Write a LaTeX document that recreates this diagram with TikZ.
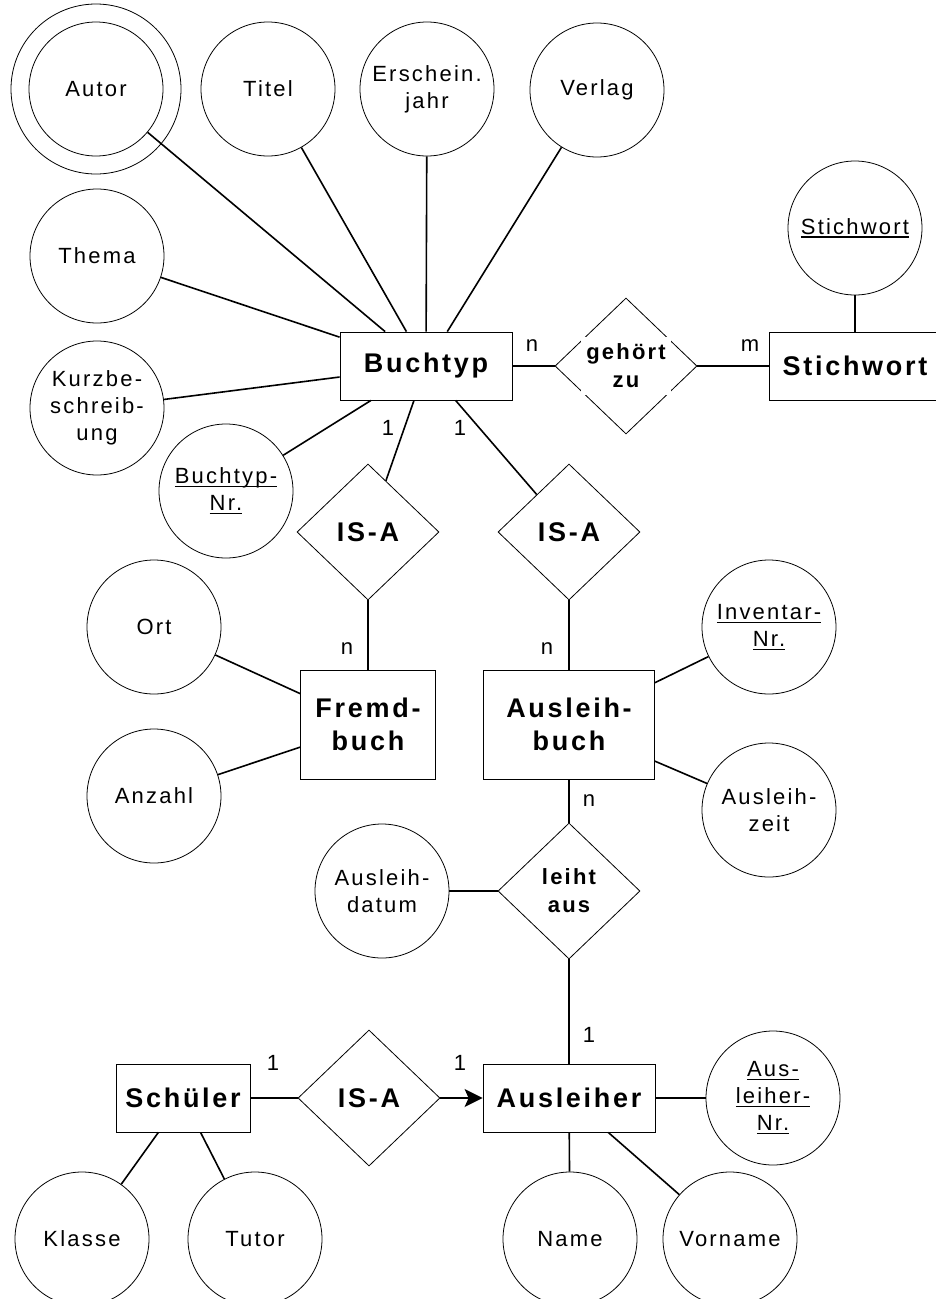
\documentclass[tikz,border=0pt]{standalone}
\usepackage{fontspec}
\setmainfont{Liberation Sans}[LetterSpace=10]
\usetikzlibrary{shapes.geometric,arrows.meta}
\newcommand\attrfont{\fontsize{22}{27}\selectfont}
\newcommand\entfont{\fontsize{27}{33}\selectfont\bfseries}
\newcommand\relfont{\fontsize{22}{28}\selectfont\bfseries}
\newsavebox\ulbox
\newcommand\myul[1]{\sbox\ulbox{#1}\rlap{\rule[-3.5pt]{\wd\ulbox}{1.3pt}}\usebox\ulbox}
\tikzset{
  attr/.style={circle, draw, line width=0.8pt, minimum size=134pt, inner sep=0pt, align=center, font=\attrfont},
  ring/.style={circle, draw, line width=0.8pt, minimum size=170pt, inner sep=0pt},
  ent/.style={draw, line width=0.8pt, inner sep=0pt, align=center, font=\entfont},
  rel/.style={diamond, draw, line width=0.8pt, minimum width=142pt, minimum height=136pt, inner sep=0pt, align=center},
  conn/.style={line width=1.6pt},
  card/.style={inner sep=0pt, font=\attrfont},
  arr/.style={-{Stealth[length=18pt,width=18pt,inset=4pt]}}
}
\begin{document}
\begin{tikzpicture}[x=1pt,y=-1pt]
\clip (0,0) rectangle (936,1299);
% attributes of Buchtyp
\node[attr] (autor) at (96,89) {Autor};
\node[ring] (autorring) at (96,89) {};
\node[attr] (titel) at (268,89) {Titel};
\node[attr] (erschein) at (427,89) {Erschein.\\jahr};
\node[attr] (verlag) at (597,90) {Verlag};
\node[attr] (thema) at (97,256) {Thema};
\node[attr] (kurz) at (97,408) {Kurzbe-\\schreib-\\ung};
\node[attr] (btnr) at (226,491) {\myul{Buchtyp-}\\\myul{Nr.}};
% entities and relationships
\node[ent, minimum width=172pt, minimum height=68pt] (buchtyp) at (426,366) {Buchtyp};
\node[rel] (gz) at (626,366) {};
\node[fill=white, minimum width=90pt, minimum height=58pt, inner sep=0pt, align=center, font=\relfont] (gztext) at (626,366) {gehört\\zu};
\node[ent, minimum width=172pt, minimum height=68pt] (stichwort) at (855,366) {Stichwort};
\node[attr] (stichattr) at (855,228) {\myul{Stichwort}};
\node[rel, font=\entfont] (isa1) at (368,532) {IS-A};
\node[rel, font=\entfont] (isa2) at (569,532) {IS-A};
\node[ent, minimum width=135pt, minimum height=109pt] (fremd) at (368,724.5) {Fremd-\\buch};
\node[ent, minimum width=171pt, minimum height=109pt] (ausbuch) at (569,724.5) {Ausleih-\\buch};
\node[attr] (ort) at (154,627) {Ort};
\node[attr] (anzahl) at (154,796) {Anzahl};
\node[attr] (invnr) at (769,627) {\myul{Inventar-}\\\myul{Nr.}};
\node[attr] (auszeit) at (769,810) {Ausleih-\\zeit};
\node[rel, font=\relfont] (leiht) at (569,891) {leiht\\aus};
\node[attr] (ausdatum) at (382,891) {Ausleih-\\datum};
\node[ent, minimum width=172pt, minimum height=68pt] (ausleiher) at (569,1098) {Ausleiher};
\node[ent, minimum width=134pt, minimum height=68pt] (schueler) at (183,1098) {Schüler};
\node[rel, font=\entfont] (isa3) at (369,1098) {IS-A};
\node[attr] (ausnr) at (773,1098) {\myul{Aus-}\\\myul{leiher-}\\\myul{Nr.}};
\node[attr] (name) at (570,1239) {Name};
\node[attr] (vorname) at (730,1239) {Vorname};
\node[attr] (klasse) at (82,1239) {Klasse};
\node[attr] (tutor) at (255,1239) {Tutor};
% cardinalities
\node[card] (c1) at (532,346) {n};
\node[card] (c2) at (750,346) {m};
\node[card] (c3) at (388,428) {1};
\node[card] (c4) at (460,428) {1};
\node[card] (c5) at (347,649) {n};
\node[card] (c6) at (547,649) {n};
\node[card] (c7) at (589,801) {n};
\node[card] (c8) at (589,1035) {1};
\node[card] (c9) at (273,1063) {1};
\node[card] (c10) at (460,1063) {1};
% connectors
\draw[conn] (autor) -- (buchtyp);
\draw[conn] (titel) -- (buchtyp);
\draw[conn] (erschein) -- (buchtyp);
\draw[conn] (verlag) -- (buchtyp);
\draw[conn] (thema) -- (buchtyp);
\draw[conn] (kurz) -- (buchtyp);
\draw[conn] (btnr) -- (buchtyp);
\draw[conn] (buchtyp) -- (gz);
\draw[conn] (gz) -- (stichwort);
\draw[conn] (stichattr) -- (stichwort);
\draw[conn] (buchtyp) -- (isa1);
\draw[conn] (buchtyp) -- (isa2);
\draw[conn] (isa1) -- (fremd);
\draw[conn] (isa2) -- (ausbuch);
\draw[conn] (ort) -- (fremd);
\draw[conn] (anzahl) -- (fremd);
\draw[conn] (invnr) -- (ausbuch);
\draw[conn] (auszeit) -- (ausbuch);
\draw[conn] (ausbuch) -- (leiht);
\draw[conn] (ausdatum) -- (leiht);
\draw[conn] (leiht) -- (ausleiher);
\draw[conn] (schueler) -- (isa3);
\draw[conn, arr] (isa3) -- (ausleiher);
\draw[conn] (ausleiher) -- (ausnr);
\draw[conn] (ausleiher) -- (name);
\draw[conn] (ausleiher) -- (vorname);
\draw[conn] (schueler) -- (klasse);
\draw[conn] (schueler) -- (tutor);
\end{tikzpicture}
\end{document}
